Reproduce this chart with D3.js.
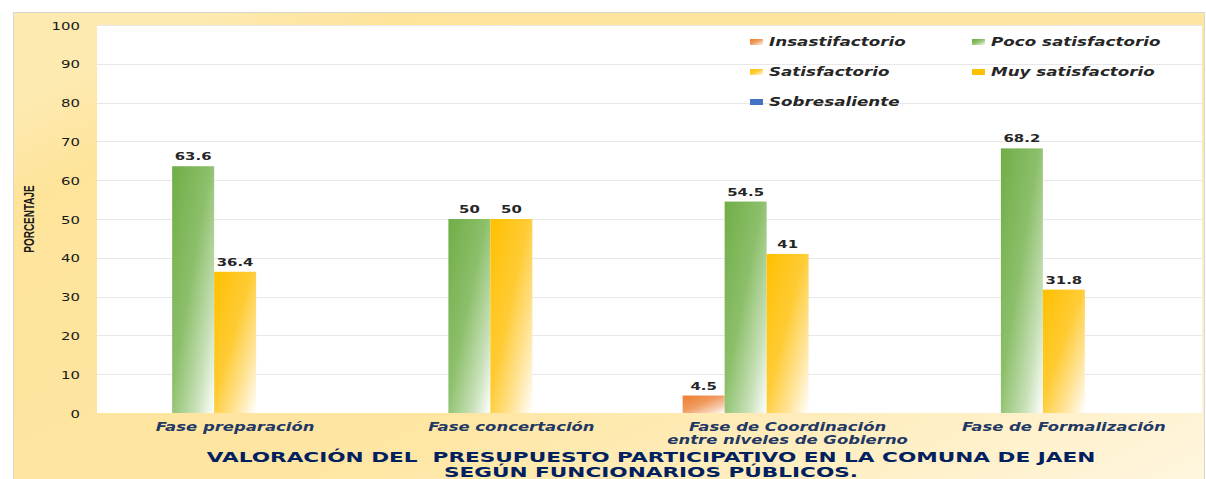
<!DOCTYPE html>
<html><head><meta charset="utf-8">
<script src="https://cdn.jsdelivr.net/npm/d3@7"></script>
<style>
html,body{margin:0;padding:0;background:#fff;}
svg{display:block;}
</style></head>
<body>
<svg id="chart" width="1206" height="479"></svg>
<script>
const categories = ["Fase preparación", "Fase concertación", "Fase de Coordinación|entre niveles de Gobierno", "Fase de Formalización"];
const seriesNames = ["Insastifactorio", "Poco satisfactorio", "Satisfactorio", "Muy satisfactorio", "Sobresaliente"];
const insastifactorio = [0, 0, 4.5, 0];
const pocoSatisfactorio = [63.6, 50, 54.5, 68.2];
const satisfactorio = [36.4, 50, 41, 31.8];
const muySatisfactorio = [0, 0, 0, 0];
const sobresaliente = [0, 0, 0, 0];
const yTicks = [0, 10, 20, 30, 40, 50, 60, 70, 80, 90, 100];
const titleLines = ["VALORACIÓN DEL  PRESUPUESTO PARTICIPATIVO EN LA COMUNA DE JAEN", "SEGÚN FUNCIONARIOS PÚBLICOS."];
const yTitle = "PORCENTAJE";

const seriesValues = [insastifactorio, pocoSatisfactorio, satisfactorio, muySatisfactorio, sobresaliente];
const fills = ["url(#gOrange)", "url(#gGreen)", "url(#gYellow)", "#ffc000", "#4472c4"];
const SX = 1.42;

const svg = d3.select("#chart");
const defs = svg.append("defs");

// background gradient
const bg = defs.append("linearGradient").attr("id", "gBg")
  .attr("x1", 0).attr("y1", 0.2).attr("x2", 1).attr("y2", 1);
bg.append("stop").attr("offset", 0).attr("stop-color", "#fdeab0");
bg.append("stop").attr("offset", 0.1).attr("stop-color", "#fee49b");
bg.append("stop").attr("offset", 0.55).attr("stop-color", "#fee6a3");
bg.append("stop").attr("offset", 1).attr("stop-color", "#fff6df");

function barGrad(id, c0, c1, c2) {
  const g = defs.append("linearGradient").attr("id", id)
    .attr("x1", 0).attr("y1", 0).attr("x2", 1).attr("y2", 1);
  g.append("stop").attr("offset", 0).attr("stop-color", c0);
  g.append("stop").attr("offset", 0.45).attr("stop-color", c1);
  g.append("stop").attr("offset", 0.78).attr("stop-color", c2);
  g.append("stop").attr("offset", 1).attr("stop-color", "#ffffff");
}
barGrad("gGreen", "#70ad47", "#8cbf6a", "#c9e1b9");
barGrad("gOrange", "#ed7d31", "#f09a5e", "#f8cfb2");
barGrad("gYellow", "#ffc000", "#ffcb33", "#ffe7a6");

// frame
svg.append("rect").attr("x", 13.5).attr("y", 12.5).attr("width", 1191).attr("height", 470)
  .attr("fill", "url(#gBg)").attr("stroke", "#d6d6d6").attr("stroke-width", 1);

const plot = {left: 97, right: 1202, top: 25, bottom: 413};
svg.append("rect").attr("x", plot.left).attr("y", plot.top)
  .attr("width", plot.right - plot.left).attr("height", plot.bottom - plot.top).attr("fill", "#ffffff");

const y = d3.scaleLinear().domain([0, 100]).range([plot.bottom, plot.top]);
const x0 = d3.scaleBand().domain(categories).range([plot.left, plot.right]).paddingInner(0.24).paddingOuter(0.12);
const x1 = d3.scaleBand().domain(seriesNames).range([0, x0.bandwidth()]);

// gridlines
svg.append("g").selectAll("line").data(yTicks.filter(d => d > 0)).join("line")
  .attr("x1", plot.left).attr("x2", plot.right)
  .attr("y1", d => Math.round(y(d)) + 0.5).attr("y2", d => Math.round(y(d)) + 0.5)
  .attr("stroke", "#e8e8e8").attr("stroke-width", 1);

// y axis
const yAxis = svg.append("g").attr("transform", `translate(${plot.left},0)`)
  .call(d3.axisLeft(y).tickValues(yTicks).tickSize(0).tickFormat(d3.format("d")));
yAxis.select(".domain").remove();
yAxis.selectAll("text")
  .attr("x", 0).attr("dy", null).attr("dx", null).attr("y", 4)
  .attr("transform", `translate(-17,0) scale(${SX},1)`)
  .attr("text-anchor", "end")
  .attr("font-family", "DejaVu Sans").attr("font-size", "10.5px").attr("fill", "#1a1a1a");

// y title
svg.append("text").text(yTitle)
  .attr("transform", `translate(34,219) scale(1.5,1) rotate(-90)`)
  .attr("text-anchor", "middle")
  .attr("font-family", "Liberation Sans Narrow, Liberation Sans").attr("font-weight", "bold")
  .attr("font-size", "10px").attr("fill", "#1a1a1a");

// bars
const groups = svg.append("g").selectAll("g").data(categories).join("g")
  .attr("transform", d => `translate(${x0(d)},0)`);
groups.each(function(cat, ci) {
  const g = d3.select(this);
  const recs = seriesNames.map((s, si) => ({s, si, v: seriesValues[si][ci]})).filter(d => d.v > 0);
  g.selectAll("rect").data(recs).join("rect")
    .attr("x", d => x1(d.s)).attr("width", x1.bandwidth())
    .attr("y", d => y(d.v)).attr("height", d => y(0) - y(d.v))
    .attr("fill", d => fills[d.si]);
  g.selectAll("text").data(recs).join("text").text(d => d3.format("")(d.v))
    .attr("transform", d => `translate(${x1(d.s) + x1.bandwidth() / 2},${y(d.v) - 6}) scale(${SX},1)`)
    .attr("text-anchor", "middle")
    .attr("font-family", "DejaVu Sans").attr("font-weight", "bold")
    .attr("font-size", "10.5px").attr("fill", "#262626");
});

// category labels
categories.forEach(cat => {
  const lines = cat.split("|");
  lines.forEach((ln, i) => {
    svg.append("text").text(ln)
      .attr("transform", `translate(${x0(cat) + x0.bandwidth() / 2},${431 + i * 13}) scale(${SX},1)`)
      .attr("text-anchor", "middle")
      .attr("font-family", "DejaVu Sans").attr("font-style", "oblique").attr("font-weight", "bold")
      .attr("font-size", "11.6px").attr("fill", "#1f3864");
  });
});

// title
titleLines.forEach((t, i) => {
  svg.append("text").text(t).attr("xml:space", "preserve")
    .attr("transform", `translate(651,${462 + i * 15}) scale(1.6,1)`)
    .attr("text-anchor", "middle")
    .attr("font-family", "DejaVu Sans").attr("font-weight", "bold")
    .attr("font-size", "13.5px").attr("fill", "#002060");
});

// legend
const legendPos = [[750, 42], [972, 42], [750, 72], [972, 72], [750, 102]];
seriesNames.forEach((s, i) => {
  const [lx, ly] = legendPos[i];
  svg.append("rect").attr("x", lx).attr("y", ly - 3).attr("width", 13).attr("height", 6)
    .attr("fill", fills[i]);
  svg.append("text").text(s)
    .attr("transform", `translate(${lx + 19},${ly + 4}) scale(${SX},1)`)
    .attr("font-family", "DejaVu Sans").attr("font-weight", "bold").attr("font-style", "oblique")
    .attr("font-size", "11.8px").attr("fill", "#262626");
});
</script>
</body></html>
